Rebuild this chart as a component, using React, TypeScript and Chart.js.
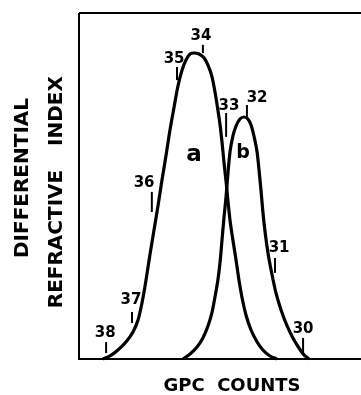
import React, { useEffect, useRef } from "react";
import { Chart, registerables } from "chart.js";

Chart.register(...registerables);

// Curve a (GPC counts, differential refractive index)
const curveACounts = [38.11, 37.82, 37.49, 37.16, 36.87, 36.66, 36.54, 36.45, 36.33, 36.17, 36.0, 35.83, 35.67, 35.5, 35.34, 35.17, 35.01, 34.84, 34.68, 34.51, 34.35, 34.14, 33.93, 33.77, 33.6, 33.48, 33.36, 33.27, 33.19, 33.11, 33.02, 32.94, 32.86, 32.74, 32.61, 32.49, 32.36, 32.2, 31.99, 31.74, 31.5, 31.21, 30.92];
const curveAValues = [0, 0.87, 2.6, 4.91, 7.8, 11.27, 14.74, 17.92, 22.83, 30.06, 37.28, 44.51, 51.73, 58.96, 66.18, 72.83, 78.9, 83.53, 86.42, 88.15, 88.44, 88.15, 86.99, 84.97, 81.5, 77.17, 71.97, 67.63, 62.72, 56.94, 51.16, 45.38, 40.17, 34.39, 28.61, 22.83, 17.63, 12.72, 8.38, 4.91, 2.6, 0.87, 0];

// Curve b
const curveBCounts = [34.8, 34.51, 34.22, 33.98, 33.77, 33.6, 33.48, 33.36, 33.27, 33.19, 33.11, 33.02, 32.94, 32.86, 32.74, 32.61, 32.45, 32.28, 32.12, 31.99, 31.87, 31.74, 31.66, 31.58, 31.5, 31.41, 31.29, 31.12, 30.96, 30.75, 30.5, 30.26, 30.01, 29.76, 29.59];
const curveBValues = [0, 1.45, 3.47, 6.07, 9.54, 13.58, 17.92, 22.83, 28.03, 34.39, 40.75, 47.11, 54.05, 59.83, 64.45, 67.34, 69.36, 69.94, 69.36, 67.63, 64.45, 59.83, 54.62, 48.84, 42.49, 36.71, 30.64, 24.28, 19.08, 14.16, 9.54, 6.07, 3.18, 0.87, 0];

// Count markers along the curves
const countLabels = ["38", "37", "36", "35", "34", "33", "32", "31", "30"];
const countMarkX = [37.98, 36.91, 36.09, 35.05, 33.98, 33.02, 32.16, 31.0, 29.84];
const countMarkLow = [1.7, 10.4, 42.5, 80.6, 88.4, 64.2, 69.9, 24.9, 2.0];
const countMarkHigh = [4.9, 13.6, 48.3, 84.4, 90.8, 71.1, 73.4, 29.2, 6.1];
const countLabelX = [38.02, 36.95, 36.41, 35.17, 34.06, 32.9, 31.74, 30.83, 29.84];
const countLabelY = [7.5, 17.1, 50.9, 86.7, 93.4, 73.1, 75.4, 32.1, 8.7];

// Curve names
const curveNames = ["a", "b"];
const curveNameX = [34.35, 32.32];
const curveNameY = [59.0, 59.5];

const xTitle = "GPC  COUNTS";
const yTitleLine1 = "DIFFERENTIAL";
const yTitleLine2a = "REFRACTIVE";
const yTitleLine2b = "INDEX";

const X_MIN = 27.446;
const X_MAX = 39.1;

const decorPlugin = {
  id: "decor",
  beforeDatasetsDraw(chart: any) {
    const { ctx, chartArea } = chart;
    ctx.save();
    ctx.strokeStyle = "#000";
    ctx.lineWidth = 2;
    ctx.beginPath();
    ctx.moveTo(chartArea.left, chartArea.top);
    ctx.lineTo(chartArea.left, chartArea.bottom);
    ctx.lineTo(chartArea.right, chartArea.bottom);
    ctx.moveTo(chartArea.left, chartArea.top);
    ctx.lineTo(chartArea.right, chartArea.top);
    ctx.stroke();
    ctx.restore();
  },
  afterDraw(chart: any) {
    const { ctx } = chart;
    const xs = chart.scales.x;
    const ys = chart.scales.y;
    ctx.save();
    ctx.fillStyle = "#000";
    ctx.textAlign = "center";
    ctx.textBaseline = "middle";
    ctx.font = "bold 15px 'DejaVu Sans'";
    countLabels.forEach((t, i) => {
      ctx.fillText(t, xs.getPixelForValue(countLabelX[i]), ys.getPixelForValue(countLabelY[i]));
    });
    curveNames.forEach((t, i) => {
      ctx.font = i === 0 ? "bold 23px 'DejaVu Sans'" : "bold 19px 'DejaVu Sans'";
      ctx.fillText(t, xs.getPixelForValue(curveNameX[i]), ys.getPixelForValue(curveNameY[i]));
    });
    ctx.font = "bold 18px 'DejaVu Sans'";
    ctx.fillText(xTitle, 232, 386);
    ctx.font = "bold 20px 'DejaVu Sans'";
    const drawRot = (t: string, x: number, y: number) => {
      ctx.save();
      ctx.translate(x, y);
      ctx.rotate(-Math.PI / 2);
      ctx.fillText(t, 0, 0);
      ctx.restore();
    };
    drawRot(yTitleLine1, 23, 178);
    drawRot(yTitleLine2a, 57, 239);
    drawRot(yTitleLine2b, 57, 111);
    ctx.restore();
  },
};

export default function App() {
  const ref = useRef<HTMLCanvasElement>(null);
  useEffect(() => {
    if (!ref.current) return;
    const lineDs = (xs: number[], ys: number[]) => ({
      data: xs.map((x, i) => ({ x, y: ys[i] })),
      borderColor: "#000",
      borderWidth: 3.2,
      pointRadius: 0,
      cubicInterpolationMode: "monotone",
      fill: false,
      clip: false as any,
    });
    const markDs = countMarkX.map((x, i) => ({
      data: [
        { x, y: countMarkLow[i] },
        { x, y: countMarkHigh[i] },
      ],
      borderColor: "#000",
      borderWidth: 2,
      pointRadius: 0,
      tension: 0,
      fill: false,
      clip: false as any,
    }));
    const chart = new Chart(ref.current, {
      type: "line",
      data: {
        datasets: [lineDs(curveACounts, curveAValues), lineDs(curveBCounts, curveBValues), ...markDs] as any,
      },
      options: {
        animation: false,
        responsive: false,
        devicePixelRatio: 1,
        layout: { padding: { left: 79, top: 13, right: 0, bottom: 36 } },
        plugins: { legend: { display: false }, tooltip: { enabled: false } },
        scales: {
          x: { type: "linear", min: X_MIN, max: X_MAX, reverse: true, display: false },
          y: { type: "linear", min: 0, max: 100, display: false },
        },
      },
      plugins: [decorPlugin],
    });
    return () => chart.destroy();
  }, []);
  return (
    <div style={{ position: "fixed", left: 0, top: 0, width: 361, height: 395, background: "#fff" }}>
      <canvas ref={ref} width={361} height={395} style={{ display: "block" }} />
    </div>
  );
}
